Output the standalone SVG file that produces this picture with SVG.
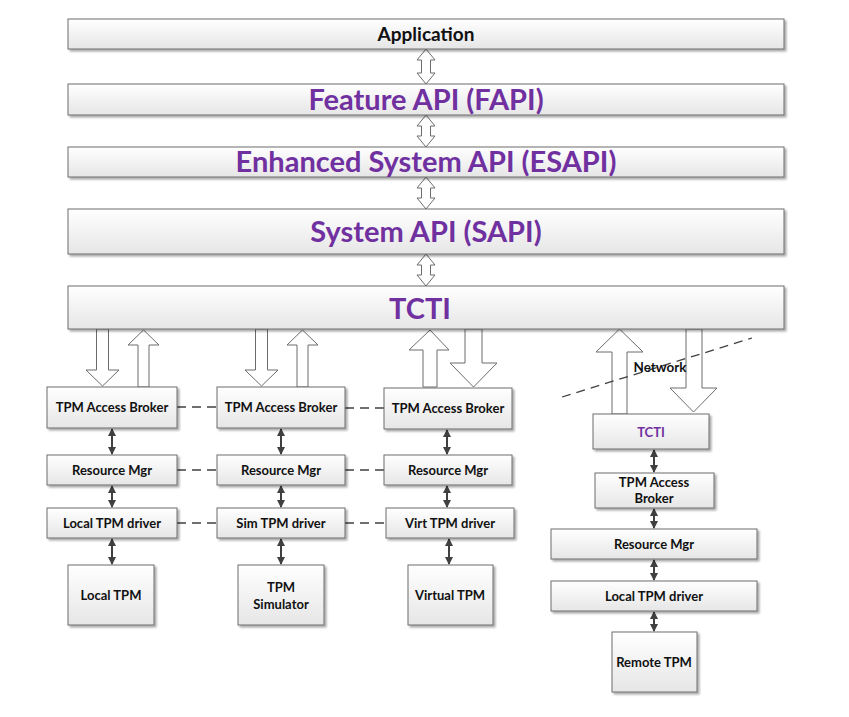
<svg xmlns="http://www.w3.org/2000/svg" width="849" height="717" viewBox="0 0 849 717">
<defs>
<linearGradient id="g" x1="0" y1="0" x2="0" y2="1">
<stop offset="0" stop-color="#ffffff"/>
<stop offset="1" stop-color="#e6e6e6"/>
</linearGradient>
<filter id="sh" x="-5%" y="-10%" width="112%" height="130%">
<feGaussianBlur in="SourceAlpha" stdDeviation="1"/>
<feOffset dx="2" dy="2" result="b"/>
<feComponentTransfer><feFuncA type="linear" slope="0.35"/></feComponentTransfer>
<feMerge><feMergeNode/><feMergeNode in="SourceGraphic"/></feMerge>
</filter>
<marker id="ah" viewBox="0 0 8 8" refX="7" refY="4" markerWidth="8" markerHeight="8" markerUnits="userSpaceOnUse" orient="auto-start-reverse">
<path d="M0,0 L8,4 L0,8 z" fill="#404040"/>
</marker>
</defs>
<style>
.box{fill:url(#g);stroke:#6d6d6d;stroke-width:1;filter:url(#sh)}
.t{font-family:Lato,"Open Sans","Liberation Sans",sans-serif;font-weight:bold;text-anchor:middle;fill:#111}
.s{font-size:13px}
.big{font-size:29px;fill:#7030a0}
.hol{fill:#ffffff;stroke:#6d6d6d;stroke-width:1}
.sm{stroke:#404040;stroke-width:2;fill:none;marker-start:url(#ah);marker-end:url(#ah)}
.dash{stroke:#404040;stroke-width:1.3;stroke-dasharray:9,6;fill:none}
</style>

<g id="connectors">
<path class="hol" d="M426,49 L435,60 L430.5,60 L430.5,73 L435,73 L426,84 L417,73 L421.5,73 L421.5,60 L417,60 Z"/>
<path class="hol" d="M426,115 L435,126 L430.5,126 L430.5,136 L435,136 L426,147 L417,136 L421.5,136 L421.5,126 L417,126 Z"/>
<path class="hol" d="M426,177 L435,188 L430.5,188 L430.5,198 L435,198 L426,209 L417,198 L421.5,198 L421.5,188 L417,188 Z"/>
<path class="hol" d="M426,254 L435,265 L430.5,265 L430.5,275 L435,275 L426,286 L417,275 L421.5,275 L421.5,265 L417,265 Z"/>
<path class="hol" d="M96.5,329 L108.5,329 L108.5,370 L119,370 L102.5,386 L86,370 L96.5,370 Z"/>
<path class="hol" d="M138,387 L149,387 L149,345 L159,345 L143.5,330 L128,345 L138,345 Z"/>
<path class="hol" d="M255.5,329 L267.5,329 L267.5,370 L278,370 L261.5,386 L245,370 L255.5,370 Z"/>
<path class="hol" d="M297,387 L308,387 L308,345 L318,345 L302.5,330 L287,345 L297,345 Z"/>
<path class="hol" d="M423,387 L437,387 L437,350 L449,350 L430,330 L409,350 L423,350 Z"/>
<path class="hol" d="M465,329 L482,329 L482,363 L497,363 L473.5,387 L450,363 L465,363 Z"/>
<path class="hol" d="M612,414 L627,414 L627,352 L643,352 L619.5,329 L596,352 L612,352 Z"/>
<path class="hol" d="M686,329 L702,329 L702,388 L717,388 L693.5,412 L670,388 L686,388 Z"/>
<path class="dash" d="M562,397 L752,338"/>
<path class="dash" d="M177,407 L217,407"/>
<path class="dash" d="M345,408 L394,408"/>
<path class="dash" d="M177,470 L217,470"/>
<path class="dash" d="M345,470 L400,470"/>
<path class="dash" d="M177,523 L217,523"/>
<path class="dash" d="M345,523 L400,523"/>
<path class="sm" d="M112,429 L112,454"/>
<path class="sm" d="M112,486 L112,507"/>
<path class="sm" d="M112,539 L112,564"/>
<path class="sm" d="M281,429 L281,454"/>
<path class="sm" d="M281,486 L281,507"/>
<path class="sm" d="M281,539 L281,564"/>
<path class="sm" d="M447,430 L447,454"/>
<path class="sm" d="M447,486 L447,507"/>
<path class="sm" d="M449,539 L449,564"/>
<path class="sm" d="M654,450 L654,472"/>
<path class="sm" d="M654,509 L654,528"/>
<path class="sm" d="M654,560 L654,580"/>
<path class="sm" d="M654,612 L654,631"/>
</g>

<g id="application"><rect class="box" x="68" y="19" width="716" height="30"/><text class="t" x="426" y="41" font-size="19">Application</text></g>
<g id="fapi"><rect class="box" x="68" y="84" width="716" height="31"/><text class="t big" x="426" y="110">Feature API (FAPI)</text></g>
<g id="esapi"><rect class="box" x="68" y="147" width="716" height="30"/><text class="t big" x="426" y="172">Enhanced System API (ESAPI)</text></g>
<g id="sapi"><rect class="box" x="68" y="209" width="716" height="45"/><text class="t big" x="426" y="242">System API (SAPI)</text></g>
<g id="tcti"><rect class="box" x="68" y="286" width="716" height="43"/><text class="t big" x="420" y="319" font-size="33">TCTI</text></g>

<g id="broker1"><rect class="box" x="47" y="387" width="130" height="41"/><text class="t s" x="112" y="412">TPM Access Broker</text></g>
<g id="rm1"><rect class="box" x="47" y="455" width="130" height="30"/><text class="t s" x="112" y="475">Resource Mgr</text></g>
<g id="drv1"><rect class="box" x="47" y="508" width="130" height="30"/><text class="t s" x="112" y="528">Local TPM driver</text></g>
<g id="localtpm"><rect class="box" x="68" y="565" width="86" height="60"/><text class="t s" x="111" y="600">Local TPM</text></g>

<g id="broker2"><rect class="box" x="217" y="387" width="128" height="41"/><text class="t s" x="281" y="412">TPM Access Broker</text></g>
<g id="rm2"><rect class="box" x="217" y="455" width="128" height="30"/><text class="t s" x="281" y="475">Resource Mgr</text></g>
<g id="drv2"><rect class="box" x="217" y="508" width="128" height="30"/><text class="t s" x="281" y="528">Sim TPM driver</text></g>
<g id="simtpm"><rect class="box" x="238" y="565" width="86" height="60"/><text class="t s" x="281" y="592">TPM</text><text class="t s" x="281" y="609">Simulator</text></g>

<g id="broker3"><rect class="box" x="384" y="388" width="128" height="41"/><text class="t s" x="448" y="413">TPM Access Broker</text></g>
<g id="rm3"><rect class="box" x="384" y="455" width="128" height="30"/><text class="t s" x="448" y="475">Resource Mgr</text></g>
<g id="drv3"><rect class="box" x="386" y="508" width="128" height="30"/><text class="t s" x="450" y="528">Virt TPM driver</text></g>
<g id="virttpm"><rect class="box" x="408" y="565" width="85" height="60"/><text class="t s" x="450" y="600">Virtual TPM</text></g>

<g id="network"><text class="t" x="660" y="372" font-size="13.5">Network</text></g>
<g id="tcti2"><rect class="box" x="593" y="414" width="116" height="35"/><text class="t s" x="651" y="437" style="fill:#7030a0">TCTI</text></g>
<g id="broker4"><rect class="box" x="595" y="473" width="119" height="35"/><text class="t s" x="654" y="487">TPM Access</text><text class="t s" x="654" y="503">Broker</text></g>
<g id="rm4"><rect class="box" x="551" y="529" width="206" height="30"/><text class="t s" x="654" y="549">Resource Mgr</text></g>
<g id="drv4"><rect class="box" x="551" y="581" width="206" height="30"/><text class="t s" x="654" y="601">Local TPM driver</text></g>
<g id="remotetpm"><rect class="box" x="612" y="632" width="85" height="60"/><text class="t s" x="654" y="667">Remote TPM</text></g>
</svg>
